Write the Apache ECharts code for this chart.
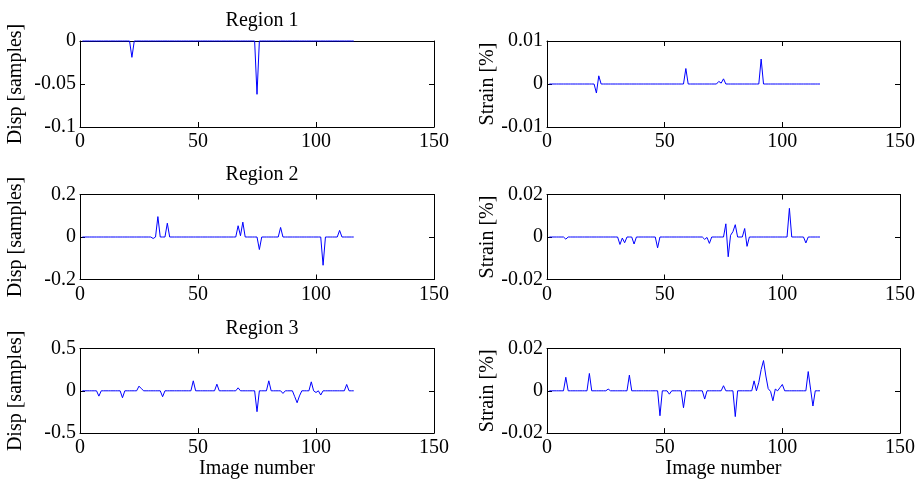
<!DOCTYPE html>
<html>
<head>
<meta charset="utf-8">
<script src="https://cdn.jsdelivr.net/npm/echarts@6/dist/echarts.min.js"></script>
<style>
  html, body { margin: 0; padding: 0; background: #fff; }
  #chart { width: 921px; height: 480px; }
</style>
</head>
<body>
<div id="chart"></div>
<script>
// Image numbers along the x axis
const imageNumbers = [
  1, 2, 3, 4, 5, 6, 7, 8, 9, 10,
  11, 12, 13, 14, 15, 16, 17, 18, 19, 20,
  21, 22, 23, 24, 25, 26, 27, 28, 29, 30,
  31, 32, 33, 34, 35, 36, 37, 38, 39, 40,
  41, 42, 43, 44, 45, 46, 47, 48, 49, 50,
  51, 52, 53, 54, 55, 56, 57, 58, 59, 60,
  61, 62, 63, 64, 65, 66, 67, 68, 69, 70,
  71, 72, 73, 74, 75, 76, 77, 78, 79, 80,
  81, 82, 83, 84, 85, 86, 87, 88, 89, 90,
  91, 92, 93, 94, 95, 96, 97, 98, 99, 100,
  101, 102, 103, 104, 105, 106, 107, 108, 109, 110,
  111, 112, 113, 114, 115, 116
];

// Region 1
const dispRegion1 = [
  0, 0, 0, 0, 0, 0, 0, 0, 0, 0,
  0, 0, 0, 0, 0, 0, 0, 0, 0, 0,
  0, -0.019, 0, 0, 0, 0, 0, 0, 0, 0,
  0, 0, 0, 0, 0, 0, 0, 0, 0, 0,
  0, 0, 0, 0, 0, 0, 0, 0, 0, 0,
  0, 0, 0, 0, 0, 0, 0, 0, 0, 0,
  0, 0, 0, 0, 0, 0, 0, 0, 0, 0,
  0, 0, 0, 0, -0.062, 0, 0, 0, 0, 0,
  0, 0, 0, 0, 0, 0, 0, 0, 0, 0,
  0, 0, 0, 0, 0, 0, 0, 0, 0, 0,
  0, 0, 0, 0, 0, 0, 0, 0, 0, 0,
  0, 0, 0, 0, 0, 0
];
const strainRegion1 = [
  0, 0, 0, 0, 0, 0, 0, 0, 0, 0,
  0, 0, 0, 0, 0, 0, 0, 0, 0, 0,
  -0.0021, 0.0019, 0, 0, 0, 0, 0, 0, 0, 0,
  0, 0, 0, 0, 0, 0, 0, 0, 0, 0,
  0, 0, 0, 0, 0, 0, 0, 0, 0, 0,
  0, 0, 0, 0, 0, 0, 0, 0, 0.0036, 0,
  0, 0, 0, 0, 0, 0, 0, 0, 0, 0,
  0, 0, 0.0006, 0.0002, 0.0012, 0, 0, 0, 0, 0,
  0, 0, 0, 0, 0, 0, 0, 0, 0, 0,
  0.0058, 0, 0, 0, 0, 0, 0, 0, 0, 0,
  0, 0, 0, 0, 0, 0, 0, 0, 0, 0,
  0, 0, 0, 0, 0, 0
];

// Region 2
const dispRegion2 = [
  0, 0, 0, 0, 0, 0, 0, 0, 0, 0,
  0, 0, 0, 0, 0, 0, 0, 0, 0, 0,
  0, 0, 0, 0, 0, 0, 0, 0, 0, 0,
  -0.007, 0, 0.096, 0, 0, 0, 0.065, 0, 0, 0,
  0, 0, 0, 0, 0, 0, 0, 0, 0, 0,
  0, 0, 0, 0, 0, 0, 0, 0, 0, 0,
  0, 0, 0, 0, 0, 0, 0.053, 0.006, 0.07, 0,
  0, 0, 0, 0, 0, -0.059, 0, 0, 0, 0,
  0, 0, 0, 0, 0.045, 0, 0, 0, 0, 0,
  0, 0, 0, 0, 0, 0, 0, 0, 0, 0,
  0, 0, -0.133, 0, 0, 0, 0, 0, 0, 0.031,
  0, 0, 0, 0, 0, 0
];
const strainRegion2 = [
  0, 0, 0, 0, 0, 0, 0, -0.001, 0, 0,
  0, 0, 0, 0, 0, 0, 0, 0, 0, 0,
  0, 0, 0, 0, 0, 0, 0, 0, 0, 0,
  -0.0035, -0.0005, -0.0027, 0, 0, 0, -0.0033, 0, 0, 0,
  0, 0, 0, 0, 0, 0, -0.0051, 0, 0, 0,
  0, 0, 0, 0, 0, 0, 0, 0, 0, 0,
  0, 0, 0, 0, 0, 0, -0.0011, -0.0002, -0.003, 0,
  0, 0, 0, 0, 0, 0.0062, -0.0093, 0.0008, 0.0025, 0.0058,
  0, 0, 0, 0.004, -0.0044, 0, 0, 0, 0, 0,
  0, 0, 0, 0, 0, 0, 0, 0, 0, 0,
  0, 0, 0.0135, 0, 0, 0, 0, 0, 0, -0.0028,
  0, 0, 0, 0, 0, 0
];

// Region 3
const dispRegion3 = [
  0, 0, 0, 0, 0, 0, 0, -0.063, 0, 0,
  0, 0, 0, 0, 0, 0, 0, -0.082, 0, 0,
  0, 0, 0, 0, 0.055, 0.025, 0, 0, 0, 0,
  0, 0, 0, 0, -0.07, 0, 0, 0, 0, 0,
  0, 0, 0, 0, 0, 0, 0, 0.118, 0, 0,
  0, 0, 0, 0, 0, 0, 0, 0.078, 0, 0,
  0, 0, 0, 0, 0, 0, 0.035, 0, 0, 0,
  0, 0, 0, 0, -0.247, 0, 0, 0, 0, 0.118,
  0, 0, 0, 0, 0, -0.031, 0, 0, 0, 0,
  -0.07, -0.141, -0.06, 0, 0, 0, 0, 0.106, 0, -0.02,
  0, -0.05, 0, 0, 0, 0, 0, 0, 0, 0,
  0, 0, 0.075, 0, 0, 0
];
const strainRegion3 = [
  0, 0, 0, 0, 0, 0, 0, 0.0064, 0, 0,
  0, 0, 0, 0, 0, 0, 0, 0.0082, 0, 0,
  0, 0, 0, 0, 0, 0.0008, 0, 0, 0, 0,
  0, 0, 0, 0, 0.0074, 0, 0, 0, 0, 0,
  0, 0, 0, 0, 0, 0, 0, -0.0118, 0, 0,
  0, -0.0016, 0, 0, 0, 0, 0, -0.008, 0, 0,
  0, 0, 0, 0, 0, 0, -0.0039, 0, 0, 0,
  0, 0, 0, 0, 0.0024, 0, 0, 0, 0, -0.0122,
  0, 0, 0, 0, 0, 0, 0, 0.0047, 0, 0.004,
  0.01, 0.0143, 0.007, 0.001, -0.0003, -0.0047, 0.0008, 0, 0.0015, 0.003,
  0, 0, 0, 0, 0, 0, 0, 0, 0, 0,
  0.0091, 0.0008, -0.0072, 0, 0, 0
];

// Axis ticks
const xTicks = [0, 50, 100, 150];
const dispTicks1 = [-0.1, -0.05, 0];
const strainTicks1 = [-0.01, 0, 0.01];
const dispTicks2 = [-0.2, 0, 0.2];
const strainTicks2 = [-0.02, 0, 0.02];
const dispTicks3 = [-0.5, 0, 0.5];
const strainTicks3 = [-0.02, 0, 0.02];

const regionTitles = ['Region 1', 'Region 2', 'Region 3'];
const dispLabel = 'Disp [samples]';
const strainLabel = 'Strain [%]';
const xLabel = 'Image number';

const FONT = "'Liberation Serif', 'Times New Roman', serif";
const FS = 20;

const panels = [
  { row: 0, col: 0, values: dispRegion1,   ticks: dispTicks1,   yName: dispLabel },
  { row: 0, col: 1, values: strainRegion1, ticks: strainTicks1, yName: strainLabel },
  { row: 1, col: 0, values: dispRegion2,   ticks: dispTicks2,   yName: dispLabel },
  { row: 1, col: 1, values: strainRegion2, ticks: strainTicks2, yName: strainLabel },
  { row: 2, col: 0, values: dispRegion3,   ticks: dispTicks3,   yName: dispLabel },
  { row: 2, col: 1, values: strainRegion3, ticks: strainTicks3, yName: strainLabel }
];

const colLeft = [80, 547];
const colWidth = [354, 353];
const rowTop = [41, 194.5, 348.5];
const rowHeight = [86, 85, 85];

const black = { color: '#000', width: 1 };
const grid = [], xAxis = [], yAxis = [], series = [];

panels.forEach((p, i) => {
  grid.push({
    left: colLeft[p.col], top: rowTop[p.row],
    width: colWidth[p.col], height: rowHeight[p.row],
    containLabel: false, show: false
  });
  const xBase = {
    gridIndex: i, type: 'value',
    min: xTicks[0], max: xTicks[xTicks.length - 1],
    interval: xTicks[1] - xTicks[0],
    axisLine: { show: true, onZero: false, lineStyle: black },
    axisTick: { show: true, inside: true, length: 5, lineStyle: black },
    splitLine: { show: false }
  };
  xAxis.push(Object.assign({}, xBase, {
    position: 'bottom',
    axisLabel: { show: true, color: '#000', fontFamily: FONT, fontSize: FS, margin: 5 },
    name: p.row === 2 ? xLabel : '',
    nameLocation: 'middle', nameGap: 23,
    nameTextStyle: { color: '#000', fontFamily: FONT, fontSize: FS }
  }));
  xAxis.push(Object.assign({}, xBase, {
    position: 'top',
    axisLabel: { show: false }
  }));
  const yBase = {
    gridIndex: i, type: 'value',
    min: p.ticks[0], max: p.ticks[p.ticks.length - 1],
    interval: p.ticks[1] - p.ticks[0],
    axisLine: { show: true, onZero: false, lineStyle: black },
    axisTick: { show: true, inside: true, length: 5, lineStyle: black },
    splitLine: { show: false }
  };
  yAxis.push(Object.assign({}, yBase, {
    position: 'left',
    axisLabel: { show: true, color: '#000', fontFamily: FONT, fontSize: FS, margin: 4 },
    name: p.yName, nameLocation: 'middle', nameRotate: 90,
    nameGap: p.col === 0 ? 54 : 45,
    nameTextStyle: { color: '#000', fontFamily: FONT, fontSize: FS }
  }));
  yAxis.push(Object.assign({}, yBase, {
    position: 'right',
    axisLabel: { show: false }
  }));
  series.push({
    type: 'line',
    xAxisIndex: 2 * i, yAxisIndex: 2 * i,
    data: imageNumbers.map((n, k) => [n, p.values[k]]),
    showSymbol: false, symbol: 'none',
    clip: false,
    lineStyle: { color: '#0000ff', width: 1 },
    z: 5
  });
});

const title = regionTitles.map((t, r) => ({
  text: t,
  left: colLeft[0] + colWidth[0] / 2,
  top: rowTop[r] - 35,
  textAlign: 'center',
  textStyle: { color: '#000', fontFamily: FONT, fontSize: FS, fontWeight: 'normal' }
}));

const chart = echarts.init(document.getElementById('chart'), null, { renderer: 'canvas' });
chart.setOption({
  animation: false,
  backgroundColor: '#fff',
  title, grid, xAxis, yAxis, series
});
</script>
</body>
</html>
